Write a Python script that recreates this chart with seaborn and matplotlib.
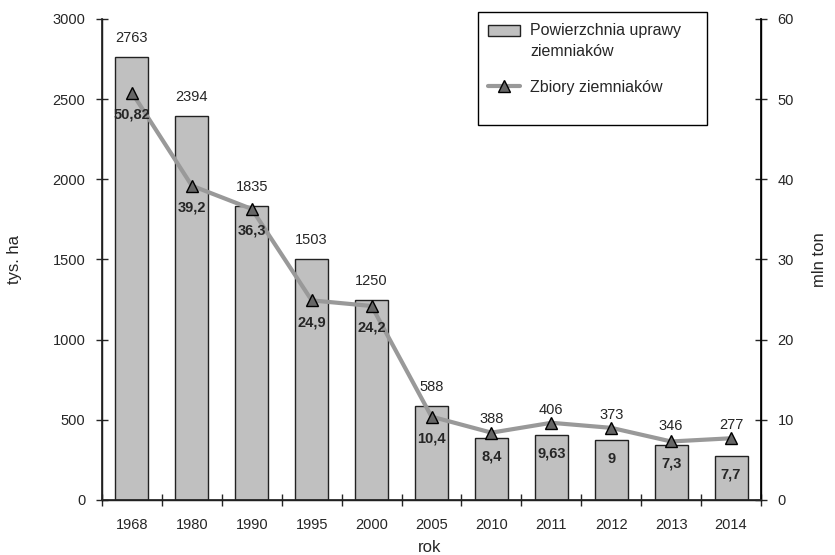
import matplotlib
matplotlib.use("Agg")
import matplotlib.pyplot as plt
import seaborn as sns
import pandas as pd
from matplotlib.lines import Line2D
from matplotlib.patches import Patch, Rectangle
from matplotlib.legend_handler import HandlerPatch

years = ["1968", "1980", "1990", "1995", "2000", "2005", "2010", "2011", "2012", "2013", "2014"]
area = [2763, 2394, 1835, 1503, 1250, 588, 388, 406, 373, 346, 277]
harvest = [50.82, 39.2, 36.3, 24.9, 24.2, 10.4, 8.4, 9.63, 9, 7.3, 7.7]
harvest_labels = ["50,82", "39,2", "36,3", "24,9", "24,2", "10,4", "8,4", "9,63", "9", "7,3", "7,7"]

sns.set_theme(style="white")
plt.rcParams['font.family'] = ['Liberation Sans Narrow', 'Liberation Sans', 'DejaVu Sans']

df = pd.DataFrame({"rok": years, "area": area, "harvest": harvest, "pos": range(len(years))})

AX_H_PX = 0.8667 * 555
fig = plt.figure(figsize=(8.35, 5.55), dpi=100)
ax = fig.add_axes([102 / 835, 0.0991, 659 / 835, 0.8667])
sns.barplot(data=df, x="rok", y="area", ax=ax, color="#c0c0c0", saturation=1,
            edgecolor="#222222", linewidth=1.0, width=0.55)
ax.set_xlim(-0.5, len(years) - 0.5)
ax.set_ylim(0, 3000)
ax.set_yticks(range(0, 3001, 500))
ax.set_xlabel("")
ax.set_ylabel("")
ax.spines["top"].set_visible(False)
for s in ["left", "bottom", "right"]:
    ax.spines[s].set_color("black")
    ax.spines[s].set_linewidth(1.0)
ax.tick_params(axis="y", direction="inout", length=8, width=1, labelsize=10.5, pad=8, left=True)
ax.set_xticks([i + 0.5 for i in range(-1, len(years))], minor=True)
ax.tick_params(axis="x", which="major", length=0, labelsize=10.5, pad=13)
ax.tick_params(axis="x", which="minor", direction="inout", length=8, width=1, bottom=True)

ax2 = ax.twinx()
sns.lineplot(data=df, x="pos", y="harvest", ax=ax2, color="#999999", linewidth=3,
             marker="^", markersize=9, markerfacecolor="#666666", markeredgecolor="black",
             markeredgewidth=1.0)
ax2.set_ylim(0, 60)
ax2.set_yticks(range(0, 61, 10))
ax2.set_xlim(-0.5, len(years) - 0.5)
ax2.set_ylabel("")
ax2.set_xlabel("")
ax2.spines["top"].set_visible(False)
ax2.spines["right"].set_color("black")
ax2.tick_params(axis="y", direction="inout", length=8, width=1, labelsize=10.5, pad=8, right=True)

# label placement: keep bar labels above both bar top and marker; harvest labels below both
px_a = 3000 / AX_H_PX   # area units per pixel
px_h = 60 / AX_H_PX     # harvest units per pixel
ratio = 3000 / 60
for i, (v, h, lab) in enumerate(zip(area, harvest, harvest_labels)):
    y_bar_lab = max(v + 12 * px_a, h * ratio + 6 * px_a)
    ax.text(i, y_bar_lab, str(v), ha="center", va="bottom", fontsize=10.5)
    y_h_lab = min(h - 15 * px_h, v / ratio - 12 * px_h)
    ax2.text(i, y_h_lab, lab, ha="center", va="top", fontsize=10.5, fontweight="bold")

# axis titles
fig.text(14 / 835, 1 - 260 / 555, "tys. ha", rotation=90, ha="center", va="center", fontsize=12)
fig.text(820 / 835, 1 - 260 / 555, "mln ton", rotation=90, ha="center", va="center", fontsize=12)
fig.text(430 / 835, 1 - 547 / 555, "rok", ha="center", va="center", fontsize=12)


def shifted_patch(legend, orig_handle, xdescent, ydescent, width, height, fontsize):
    return Rectangle((-xdescent, -ydescent + 8), width, height)


handles = [Patch(facecolor="#c0c0c0", edgecolor="#222222", linewidth=1.0),
           Line2D([0], [0], color="#999999", linewidth=3, marker="^", markersize=9,
                  markerfacecolor="#666666", markeredgecolor="black")]
leg = ax2.legend(handles, ["Powierzchnia uprawy\nziemniaków", "Zbiory ziemniaków"],
                 loc="upper left", bbox_to_anchor=((478 - 102) / 659, 1.012), frameon=False,
                 fontsize=11.5, borderpad=0.6, labelspacing=1.3,
                 handlelength=2.05, handletextpad=0.6, borderaxespad=0,
                 handler_map={Patch: HandlerPatch(patch_func=shifted_patch)})
leg.get_texts()[0].set_linespacing(1.5)
fig.patches.append(Rectangle((478 / 835, 1 - 125 / 555), 229 / 835, 113 / 555,
                             transform=fig.transFigure, fill=False, edgecolor="black",
                             linewidth=1.0, figure=fig))

fig.savefig("out.png", dpi=100)
